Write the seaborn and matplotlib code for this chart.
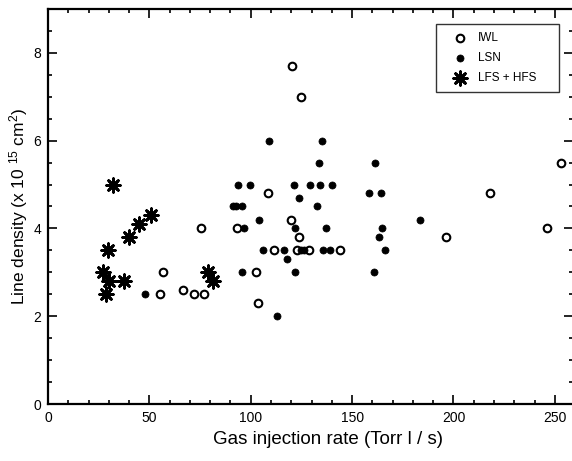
import numpy as np
import pandas as pd
import matplotlib
matplotlib.use("Agg")
import matplotlib.pyplot as plt
from matplotlib.ticker import MultipleLocator
import seaborn as sns

# data
iwl_x = [55.3, 56.9, 66.8, 72.2, 77.0, 75.5, 93.3, 102.5, 103.8, 108.4, 111.4,
         119.8, 120.4, 122.7, 123.7, 124.7, 128.5, 144.1, 196.4, 218.2, 246.0, 253.0]
iwl_y = [2.5, 3.0, 2.6, 2.5, 2.5, 4.0, 4.0, 3.0, 2.3, 4.8, 3.5,
         4.2, 7.7, 3.5, 3.8, 7.0, 3.5, 3.5, 3.8, 4.8, 4.0, 5.5]

lsn_x = [48.0, 91.5, 92.8, 93.6, 95.6, 95.9, 96.9, 99.5, 104.1, 106.2, 109.1,
         112.9, 116.2, 118.0, 121.1, 121.6, 121.9, 124.0, 125.0, 126.5, 129.0,
         132.5, 133.7, 134.1, 135.3, 135.6, 137.3, 139.0, 140.3, 158.3, 160.9,
         161.1, 163.5, 164.4, 164.7, 166.2, 183.5]
lsn_y = [2.5, 4.5, 4.5, 5.0, 3.0, 4.5, 4.0, 5.0, 4.2, 3.5, 6.0,
         2.0, 3.5, 3.3, 5.0, 4.0, 3.0, 4.7, 3.5, 3.5, 5.0,
         4.5, 5.5, 5.0, 6.0, 3.5, 4.0, 3.5, 5.0, 4.8, 3.0,
         5.5, 3.8, 4.8, 4.0, 3.5, 4.2]

lfs_x = [32.2, 50.8, 45.1, 40.1, 29.5, 27.0, 29.9, 37.5, 28.6, 78.8, 81.3]
lfs_y = [5.0, 4.3, 4.1, 3.8, 3.5, 3.0, 2.8, 2.8, 2.5, 3.0, 2.8]

sns.set_style("ticks")
plt.rcParams['font.family'] = ['Liberation Sans', 'DejaVu Sans']
plt.rcParams['mathtext.fontset'] = 'custom'
plt.rcParams['mathtext.rm'] = 'Liberation Sans'
plt.rcParams['mathtext.it'] = 'Liberation Sans:italic'
plt.rcParams['axes.edgecolor'] = 'black'
plt.rcParams['xtick.color'] = 'black'
plt.rcParams['ytick.color'] = 'black'
plt.rcParams['text.color'] = 'black'
plt.rcParams['axes.labelcolor'] = 'black'

df_iwl = pd.DataFrame({'rate': iwl_x, 'density': iwl_y})
df_lsn = pd.DataFrame({'rate': lsn_x, 'density': lsn_y})
df_lfs = pd.DataFrame({'rate': lfs_x, 'density': lfs_y})

fig = plt.figure(figsize=(5.72, 4.61), dpi=100)
# right spine sits just past the picture edge, as in the reference
ax = fig.add_axes([0.0839, 0.1236, 0.918, 0.857])

sns.scatterplot(data=df_iwl, x='rate', y='density', ax=ax, marker='o', s=30,
                facecolor='white', edgecolor='black', linewidth=1.5, label='IWL', zorder=3)
sns.scatterplot(data=df_lsn, x='rate', y='density', ax=ax, marker='o', s=26,
                color='black', edgecolor='black', linewidth=0.5, label='LSN', zorder=3)
sns.scatterplot(data=df_lfs, x='rate', y='density', ax=ax, marker=(8, 2, 0), s=95,
                color='black', edgecolor='black', linewidth=2.0, label='LFS + HFS', zorder=4)

ax.set_xlim(0, 259)
ax.set_ylim(0, 9)
ax.xaxis.set_major_locator(MultipleLocator(50))
ax.xaxis.set_minor_locator(MultipleLocator(10))
ax.yaxis.set_major_locator(MultipleLocator(2))
ax.yaxis.set_minor_locator(MultipleLocator(0.5))
ax.tick_params(which='both', direction='in', top=True, right=True, labelsize=10, width=1.2)
ax.tick_params(which='major', length=6.5, pad=5)
ax.tick_params(which='minor', length=3)
for sp in ax.spines.values():
    sp.set_linewidth(1.6)

ax.set_xlabel('Gas injection rate (Torr l / s)', fontsize=13.5)
ax.xaxis.set_label_coords(0.533, -0.068)
ax.set_ylabel('Line density (x 10 $^{15}$ cm$^{2}$)', fontsize=12.5, labelpad=2)

leg = ax.legend(loc='upper left', bbox_to_anchor=(0.738, 0.962, 0.235, 0.0),
                mode='expand', borderaxespad=0,
                fontsize=8.5, frameon=True, fancybox=False, edgecolor='black',
                labelspacing=0.65, handletextpad=0.2, borderpad=0.72, handlelength=2.7)
leg.get_frame().set_linewidth(1.0)

fig.savefig('out.png', dpi=100)
